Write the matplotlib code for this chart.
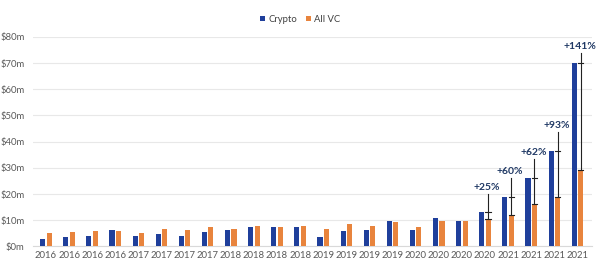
import matplotlib
matplotlib.use("Agg")
import matplotlib.pyplot as plt
import numpy as np

# Quarterly average deal size, $m
quarters = ["2016"] * 4 + ["2017"] * 4 + ["2018"] * 4 + ["2019"] * 4 + ["2020"] * 4 + ["2021"] * 4
crypto = [2.9, 3.5, 4.0, 6.3, 4.1, 4.9, 4.1, 5.5, 6.3, 7.6, 7.4, 7.6,
          3.7, 5.8, 6.2, 9.9, 6.3, 11.0, 9.9, 13.0, 19.0, 26.3, 36.6, 70.0]
all_vc = [5.0, 5.7, 5.9, 6.0, 5.0, 6.8, 6.3, 7.4, 6.8, 7.8, 7.4, 7.9,
          6.6, 8.5, 7.9, 9.4, 7.4, 9.9, 9.9, 10.4, 11.9, 16.2, 19.0, 29.1]
# Premium of crypto over all VC for the most recent quarters
premium_idx = [19, 20, 21, 22, 23]
premium_lbl = ["+25%", "+60%", "+62%", "+93%", "+141%"]

c_crypto = "#1f3f9b"
c_vc = "#e8843d"
c_note = "#1f3864"

plt.rcParams["font.family"] = ["Lato", "DejaVu Sans"]

fig = plt.figure(figsize=(6.0, 2.58), dpi=100)
ax = fig.add_axes([0.055, 0.0446, 0.932, 0.8124])

x = np.arange(len(quarters))
w = 0.22
off = 0.14
ax.bar(x - off, crypto, w, color=c_crypto, label="Crypto", zorder=3)
ax.bar(x + off, all_vc, w, color=c_vc, label="All VC", zorder=3)

# Premium markers: line from the All VC level up past the crypto level
for i, lbl in zip(premium_idx, premium_lbl):
    xc = i + off
    top = min(crypto[i] + 7.0, 74.0)
    ax.plot([xc, xc], [all_vc[i], top], color="#222222", lw=0.8, zorder=4)
    for lvl in (crypto[i], all_vc[i]):
        ax.plot([xc - 0.12, xc + 0.12], [lvl, lvl], color="#222222", lw=0.8, zorder=4)
    ax.text(xc - 0.05, top + 0.8, lbl, ha="center", va="bottom", color=c_note,
            fontsize=7.5, fontweight="bold", zorder=5)

ax.set_xlim(-0.56, 23.64)
ax.set_ylim(0, 80)
ax.set_yticks(np.arange(0, 81, 10))
ax.set_yticklabels([f"${v}m" for v in range(0, 81, 10)])
ax.set_xticks(x)
ax.set_xticklabels(quarters)
ax.grid(axis="y", color="#e8e8e8", lw=0.8, zorder=0)
for s in ["top", "right", "left"]:
    ax.spines[s].set_visible(False)
ax.spines["bottom"].set_color("#d9d9d9")
ax.tick_params(axis="both", length=0, labelsize=6.8, colors="#595959")
ax.tick_params(axis="x", pad=3)
ax.tick_params(axis="y", pad=6)

leg = fig.legend(loc="center", bbox_to_anchor=(0.5, 0.925), ncol=2, frameon=False,
                 fontsize=6.8, handlelength=0.55, handleheight=0.55, handletextpad=0.3,
                 columnspacing=0.9, borderaxespad=0)
for t in leg.get_texts():
    t.set_color("#404040")

fig.savefig("out.png", dpi=100)
